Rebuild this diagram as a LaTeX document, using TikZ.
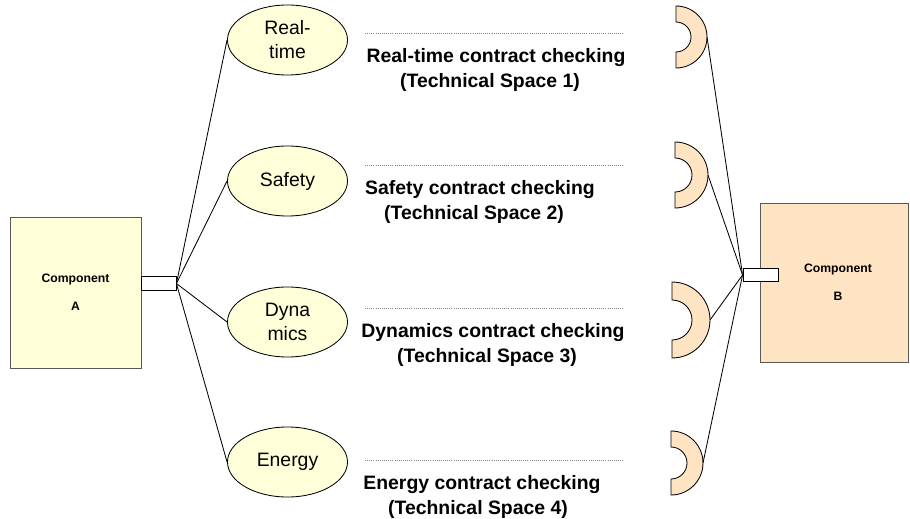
\documentclass[tikz,border=0pt]{standalone}
\usepackage{fontspec}
\setmainfont{Liberation Sans}
\usepackage{tikz}
\usetikzlibrary{shapes.geometric}
\definecolor{compA}{HTML}{FFFFD9}
\definecolor{compB}{HTML}{FFE4C4}
\tikzset{
  comp/.style={draw=black!65,line width=0.6pt,align=center,font=\bfseries\fontsize{8.7}{19.8}\selectfont},
  port/.style={draw,fill=white,minimum width=0.875cm,minimum height=0.34cm,inner sep=0pt,line width=0.6pt},
  aspect/.style={ellipse,draw,fill=compA,minimum width=3cm,minimum height=1.75cm,inner sep=0pt,
    align=center,font=\fontsize{13.8}{17}\selectfont,line width=0.6pt},
  check/.style={align=center,font=\bfseries\fontsize{13.8}{17.5}\selectfont},
  sock/.style={fill=compB,draw,line width=0.6pt},
  wire/.style={line width=0.6pt},
  sep/.style={densely dotted,gray,line width=0.5pt}
}
% half ring: (centre), outer radius, inner radius, name of its tip
\def\socket#1#2#3#4{%
  \filldraw[sock] #1 ++(0,#2) arc[start angle=-90,end angle=90,radius=#2*0.025cm]
    -- ++(0,#2-#3) arc[start angle=90,end angle=-90,radius=#3*0.025cm] -- cycle;
  \path #1 ++(#2,0) coordinate (#4);
}

\begin{document}
\begin{tikzpicture}[x=0.025cm,y=-0.025cm]
    \useasboundingbox (0,0) rectangle (910,519);
    % the two components and their ports
    \node[comp,fill=compA,minimum width=3.275cm,minimum height=3.775cm] (ca) at (75.5,292.5) {Component\\A};
    \node[comp,fill=compB,minimum width=3.7cm,minimum height=3.975cm] (cb) at (834,282.5) {\hspace*{0.2cm}Component\\\hspace*{0.2cm}B};
    \node[port] (pa) at (158.5,283.5) {};
    \node[port] (pb) at (760.5,275) {};
    % aspects
    \node[aspect] (rt) at (287.5,40) {Real-\\time};
    \node[aspect] (saf) at (287.5,181) {Safety};
    \node[aspect] (dyn) at (287.5,322) {Dyna\\mics};
    \node[aspect] (en) at (287.5,462) {Energy};
    \draw[wire] (pa.east) -- (rt.west);
    \draw[wire] (pa.east) -- (saf.west);
    \draw[wire] (pa.east) -- (dyn.west);
    \draw[wire] (pa.east) -- (en.west);
    % technical spaces
    \draw[sep] (365,33) -- (623,33);
    \draw[sep] (365,165) -- (623,165);
    \draw[sep] (365,308) -- (623,308);
    \draw[sep] (365,460) -- (623,460);
    \node[check] (ts1) at (496,70) {Real-time contract checking\\(Technical Space 1)\hspace*{0.3cm}};
    \node[check] (ts2) at (480,202) {Safety contract checking\\(Technical Space 2)\hspace*{0.3cm}};
    \node[check] (ts3) at (493,345) {Dynamics contract checking\\(Technical Space 3)\hspace*{0.3cm}};
    \node[check] (ts4) at (482,497) {Energy contract checking\\(Technical Space 4)\hspace*{0.2cm}};
    % required interfaces of B
    \socket{(676,37)}{31}{15}{s1}
    \socket{(675,175)}{33}{17}{s2}
    \socket{(672,320)}{38}{20}{s3}
    \socket{(671,463)}{32}{16}{s4}
    \draw[wire] (s1) -- (pb.west);
    \draw[wire] (s2) -- (pb.west);
    \draw[wire] (s3) -- (pb.west);
    \draw[wire] (s4) -- (pb.west);
\end{tikzpicture}
\end{document}
